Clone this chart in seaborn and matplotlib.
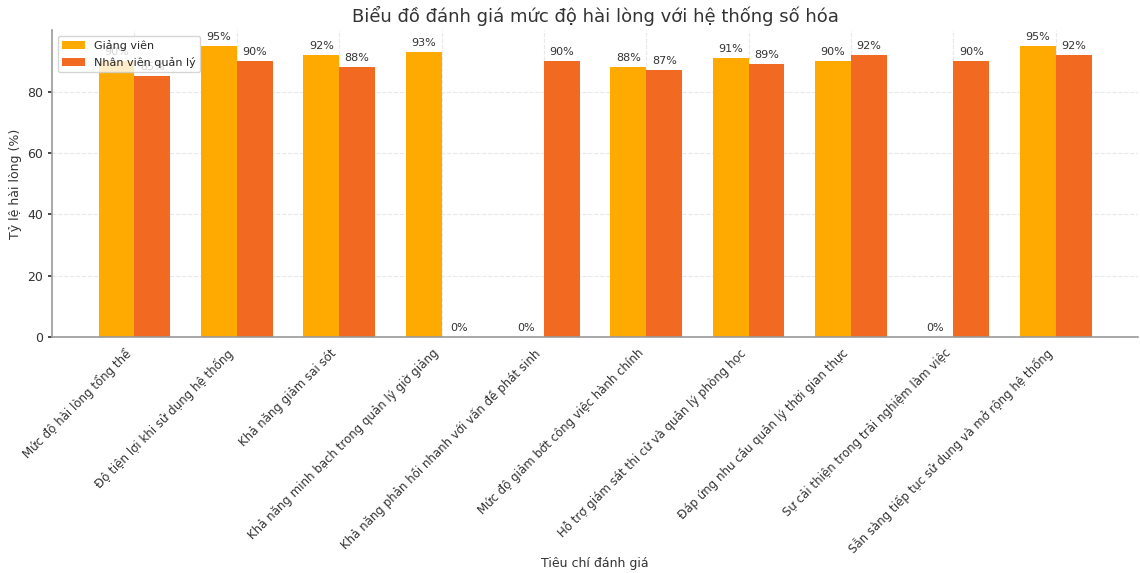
import matplotlib
matplotlib.use("Agg")
import matplotlib.pyplot as plt
import seaborn as sns
import pandas as pd

categories = [
    "Mức độ hài lòng tổng thể",
    "Độ tiện lợi khi sử dụng hệ thống",
    "Khả năng giảm sai sót",
    "Khả năng minh bạch trong quản lý giờ giảng",
    "Khả năng phản hồi nhanh với vấn đề phát sinh",
    "Mức độ giảm bớt công việc hành chính",
    "Hỗ trợ giám sát thi cử và quản lý phòng học",
    "Đáp ứng nhu cầu quản lý thời gian thực",
    "Sự cải thiện trong trải nghiệm làm việc",
    "Sẵn sàng tiếp tục sử dụng và mở rộng hệ thống",
]
giang_vien = [90, 95, 92, 93, 0, 88, 91, 90, 0, 95]
nhan_vien = [85, 90, 88, 0, 90, 87, 89, 92, 90, 92]
series_names = ["Giảng viên", "Nhân viên quản lý"]
colors = ["#FFAA00", "#F26A22"]

df = pd.DataFrame({
    "cat": categories * 2,
    "val": giang_vien + nhan_vien,
    "group": [series_names[0]] * len(categories) + [series_names[1]] * len(categories),
})

sns.set_theme(style="whitegrid")
plt.rcParams["font.family"] = ["DejaVu Sans"]

fig, ax = plt.subplots(figsize=(11.4, 5.73), dpi=100)
sns.barplot(data=df, x="cat", y="val", hue="group", palette=colors,
            width=0.7, ax=ax, saturation=1, linewidth=0)

for cont in ax.containers:
    labels = [f"{int(b.get_height())}%" for b in cont]
    ax.bar_label(cont, labels=labels, padding=3, fontsize=8, color="#333333")

ax.set_ylim(0, 100)
ax.set_xlim(-0.8, 9.8)
ax.set_yticks([0, 20, 40, 60, 80])
ax.set_title("Biểu đồ đánh giá mức độ hài lòng với hệ thống số hóa", fontsize=13, color="#333333")
ax.set_xlabel("Tiêu chí đánh giá", fontsize=9, color="#333333", va="center")
ax.xaxis.set_label_coords(0.5, -0.74)
ax.set_ylabel("Tỷ lệ hài lòng (%)", fontsize=9, color="#333333")
ax.tick_params(axis="x", labelsize=8.5, colors="#333333", pad=1)
ax.tick_params(axis="y", labelsize=9, colors="#333333", left=True, length=3)
plt.setp(ax.get_xticklabels(), rotation=45, ha="right")
ax.grid(True, color="#e8e8e8", linewidth=0.8, linestyle="--")
for s in ["top", "right"]:
    ax.spines[s].set_visible(False)
for s in ["left", "bottom"]:
    ax.spines[s].set_color("#999999")
    ax.spines[s].set_linewidth(1.2)
ax.legend(loc="upper left", fontsize=8, frameon=True, title=None)

fig.subplots_adjust(left=0.046, right=0.998, top=0.947, bottom=0.412)
fig.savefig("out.png", dpi=100)
